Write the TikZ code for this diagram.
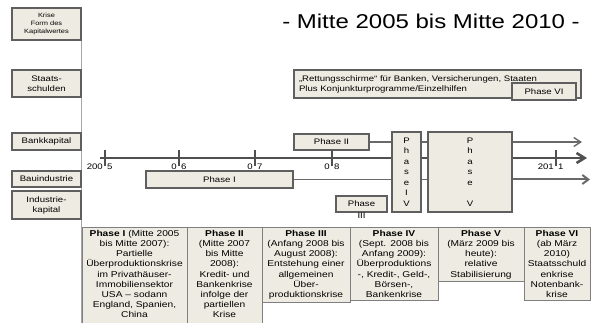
\documentclass[tikz,border=0pt]{standalone}
\usepackage{fontspec}
\setmainfont{Liberation Sans}[FakeStretch=1.2]
\usetikzlibrary{arrows.meta}

\definecolor{boxfill}{RGB}{238,236,226}
\definecolor{boxline}{RGB}{95,95,95}
\definecolor{flowline}{RGB}{105,105,105}
\definecolor{axisline}{RGB}{80,80,80}

\tikzset{
  box/.style={draw=boxline, fill=boxfill, line width=1.2pt, inner sep=0pt,
    align=center, font=\fontsize{8}{10}\selectfont},
  sidebox/.style={box, line width=1.5pt, minimum width=69pt},
  colbox/.style={draw=boxline!80, fill=boxfill, line width=1pt, anchor=north,
    align=center, inner xsep=1pt, inner ysep=3pt, font=\fontsize{8.5}{10.1}\selectfont},
  flow/.style={draw=flowline, line width=1.8pt},
  axis/.style={draw=axisline, line width=2.6pt},
  ticklabel/.style={inner sep=0pt, font=\fontsize{8}{10}\selectfont},
}

\begin{document}
\begin{tikzpicture}[x=1pt, y=-1pt]
\useasboundingbox (0,0) rectangle (591,323);

\node[font=\fontsize{20}{24}\selectfont] (titel) at (431,21) {- Mitte 2005 bis Mitte 2010 -};

% linke Spalte
\node[sidebox, minimum height=32pt, font=\fontsize{6.2}{8.3}\selectfont] (krise) at (46.5,24) {Krise\\Form des\\Kapitalwertes};
\draw[gray!70, line width=0.8pt] (krise.south east) -- ++(0,283);
\node[sidebox, minimum height=27pt, line width=2pt] (staat) at (46.5,83.5) {Staats-\\schulden};
\node[sidebox, minimum height=17pt] (bank) at (46.5,141.5) {Bankkapital};
\node[sidebox, minimum height=16pt] (bau) at (46.5,179) {Bauindustrie};
\node[sidebox, minimum height=28pt] (ind) at (46.5,205) {Industrie-\\kapital};

% Phasen
\node[box, minimum width=287pt, minimum height=28pt, text width=277pt, align=left] (rett) at (437.5,84)
  {„Rettungsschirme“ für Banken, Versicherungen, Staaten\\Plus Konjunkturprogramme/Einzelhilfen};
\node[box, minimum width=64pt, minimum height=17pt] (ph6) at (544,91.5) {Phase VI};
\node[box, minimum width=75pt, minimum height=16pt] (ph2) at (331.5,142) {Phase II};
\node[box, minimum width=147pt, minimum height=17pt] (ph1) at (219.5,179.5) {Phase I};
\node[box, minimum width=51pt, minimum height=16pt,
  label={[ticklabel, name=ph3b]below:III}] (ph3) at (361.5,204) {Phase};
\node[box, minimum width=29pt, minimum height=80pt, font=\fontsize{8}{10.5}\selectfont] (ph4) at (406.5,172) {P\\h\\a\\s\\e\\I\\V};
\node[box, minimum width=84pt, minimum height=80pt, font=\fontsize{8}{10.5}\selectfont] (ph5) at (470,172) {P\\h\\a\\s\\e\\~\\V};

% Linien
\coordinate (achseA) at (100,158);
\coordinate (achseZ) at (587,158);
\coordinate (obenZ) at (582,142);
\coordinate (untenZ) at (590,179.5);

\draw[flow] (ph2.east) -- (ph2.east -| ph4.west);
\draw[flow] (ph2.east -| ph4.east) -- (ph2.east -| ph5.west);
\draw[flow, line width=1.4pt, -{Straight Barb[length=7pt, width=9pt]}] (ph2.east -| ph5.east) -- (obenZ);

\draw[axis] (achseA) -- (achseA -| ph4.west);
\draw[axis] (achseA -| ph4.east) -- (achseA -| ph5.west);
\draw[axis, -{Straight Barb[length=8pt, width=10pt]}] (achseA -| ph5.east) -- (achseZ);

\draw[flow] (ph1.east) -- (ph1.east -| ph4.west);
\draw[flow] (ph1.east -| ph4.east) -- (ph1.east -| ph5.west);
\draw[flow, line width=2pt, -{Straight Barb[length=6pt, width=9pt]}] (ph1.east -| ph5.east) -- (untenZ);

\foreach \x/\links/\rechts in {105/200/5, 179/0/6, 255/0/7, 332/0/8, 556/201/1} {
  \draw[axisline, line width=1.8pt] (\x,150) -- (\x,166);
  \node[ticklabel, anchor=east] (l\x) at (\x-2,167) {\links};
  \node[ticklabel, anchor=west] (r\x) at (\x+2,167) {\rechts};
}

% Tabelle
\node[colbox, text width=103pt] (tI) at (134.5,227)
  {\textbf{Phase I} (Mitte 2005\\bis Mitte 2007):\\Partielle\\Überproduktionskrise\\im Privathäuser-\\Immobiliensektor\\USA – sodann\\England, Spanien,\\China\\[-2pt]~};
\node[colbox, text width=73pt] (tII) at (224.5,227)
  {\textbf{Phase II}\\(Mitte 2007\\bis Mitte\\2008):\\Kredit- und\\Bankenkrise\\infolge der\\partiellen\\Krise\\[-2pt]~};
\node[colbox, text width=86pt] (tIII) at (306,227)
  {\textbf{Phase III}\\(Anfang 2008 bis\\August 2008):\\Entstehung einer\\allgemeinen\\Über-\\produktionskrise};
\node[colbox, text width=86pt] (tIV) at (394,227)
  {\textbf{Phase IV}\\(Sept. 2008 bis\\Anfang 2009):\\Überproduktions\\-, Kredit-, Geld-,\\Börsen-,\\Bankenkrise};
\node[colbox, text width=84pt] (tV) at (481,227)
  {\textbf{Phase V}\\(März 2009 bis\\heute):\\relative\\Stabilisierung};
\node[colbox, text width=64pt] (tVI) at (557,227)
  {\textbf{Phase VI}\\(ab März\\2010)\\Staatsschuld\\enkrise\\Notenbank-\\krise};
\end{tikzpicture}
\end{document}
